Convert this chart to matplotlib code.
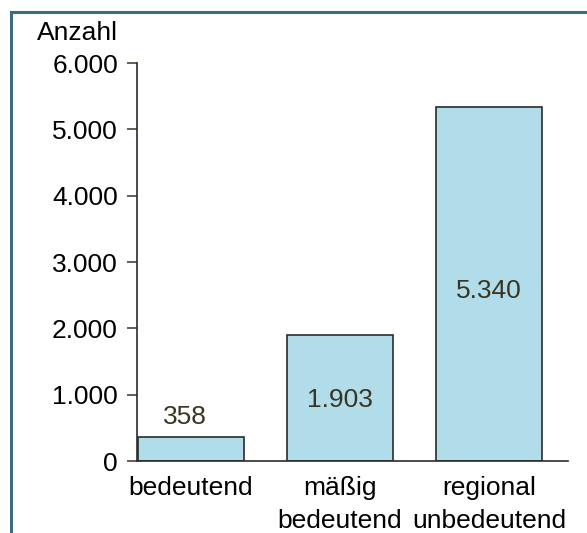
import matplotlib
matplotlib.use("Agg")
import matplotlib.pyplot as plt
from matplotlib.lines import Line2D
from matplotlib.ticker import FuncFormatter

plt.rcParams.update({
    "font.family": ["Liberation Sans", "DejaVu Sans"],
    "font.size": 19,
})

# ── Data ──────────────────────────────────────────────────────────────────────
categories = ["bedeutend", "mäßig\nbedeutend", "regional\nunbedeutend"]
counts = [358, 1903, 5340]
y_ticks = [0, 1000, 2000, 3000, 4000, 5000, 6000]

BAR_COLOR = "#b0dde9"
EDGE = "#2b2b2b"
VALUE_COLOR = "#3a3522"
FRAME = "#3f6a85"

fig = plt.figure(figsize=(5.87, 5.33), dpi=100)
ax = fig.add_axes([0.2334, 0.135, 0.7342, 0.7468])

x = range(len(categories))
ax.bar(x, counts, width=0.71, color=BAR_COLOR, edgecolor=EDGE, linewidth=1.2)

ax.set_ylim(0, 6000)
ax.set_xlim(-0.362, 2.53)
ax.set_yticks(y_ticks)
ax.yaxis.set_major_formatter(FuncFormatter(lambda v, _: f"{int(v):,}".replace(",", ".")))
ax.set_xticks(list(x))
ax.set_xticklabels(categories, linespacing=1.5)
ax.tick_params(axis="x", length=0, pad=10.5)
ax.tick_params(axis="y", length=7.2, width=1.2, color="#4a4232", pad=6.5)

for s in ["top", "right"]:
    ax.spines[s].set_visible(False)
for s in ["left", "bottom"]:
    ax.spines[s].set_color(EDGE)
    ax.spines[s].set_linewidth(1.2)

# value labels: small bar above, others inside
for xi, v in zip(x, counts):
    label = f"{v:,}".replace(",", ".")
    if v < 1000:
        ax.text(xi - 0.04, v + 300, label, ha="center", va="center", color=VALUE_COLOR)
    else:
        ax.text(xi, v * 0.48, label, ha="center", va="center", color=VALUE_COLOR)

fig.text(37 / 587, 1 - 33 / 533, "Anzahl", ha="left", va="center")

# frame lines (left and top)
fig.add_artist(Line2D([11 / 587, 11 / 587], [0, 1 - 12 / 533], transform=fig.transFigure,
                      color=FRAME, lw=2.2))
fig.add_artist(Line2D([11 / 587, 1], [1 - 12 / 533, 1 - 12 / 533], transform=fig.transFigure,
                      color=FRAME, lw=2.2))

fig.savefig("out.png", dpi=100)
